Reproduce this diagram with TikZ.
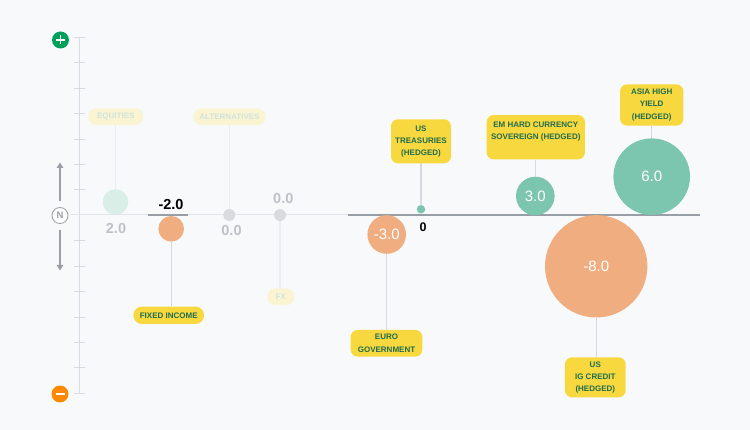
\documentclass[tikz,border=0pt]{standalone}
\usepackage{fontspec}
\setmainfont{Liberation Sans}
\usetikzlibrary{arrows.meta}
\definecolor{bgc}{HTML}{F8F9FB}
\definecolor{axisc}{HTML}{D6DBE5}
\definecolor{lightline}{HTML}{E2E4E8}
\definecolor{darkline}{HTML}{989EA5}
\definecolor{arrowc}{HTML}{9A9FA6}
\definecolor{ngray}{HTML}{9AA0A6}
\definecolor{plusgreen}{HTML}{00A05A}
\definecolor{minusorange}{HTML}{FF8A00}
\definecolor{lblyellow}{HTML}{F7D93F}
\definecolor{lblgreen}{HTML}{1F6B4E}
\definecolor{fadeyellow}{HTML}{FAF4D3}
\definecolor{fadetext}{HTML}{D2E3DD}
\definecolor{tealc}{HTML}{7CC5AF}
\definecolor{orangec}{HTML}{F0AE80}
\definecolor{fadeteal}{HTML}{D9EEE7}
\definecolor{grayc}{HTML}{DADBDE}
\definecolor{graytext}{HTML}{BEC1C5}
\definecolor{connc}{HTML}{D5D9E1}
\definecolor{fadeconn}{HTML}{EBEDF0}
\pgfdeclarelayer{bglayer}
\pgfdeclarelayer{lines}
\pgfsetlayers{bglayer,lines,main}
\tikzset{
  lblbase/.style={inner sep=0pt, align=center, font=\fontsize{8}{12.2}\selectfont\bfseries},
  lbl/.style={lblbase, fill=lblyellow, text=lblgreen},
  fadelbl/.style={lblbase, fill=fadeyellow, text=fadetext},
  bub/.style={circle, inner sep=0pt, minimum size=#1, text=white, font=\fontsize{15}{15}\selectfont},
  conn/.style={draw=connc, line width=1.2pt},
  fadeconnline/.style={draw=fadeconn, line width=1.2pt},
  graynum/.style={text=graytext, font=\fontsize{14.5}{14.5}\selectfont\bfseries},
  blacknum/.style={text=black, font=\fontsize{14.5}{14.5}\selectfont\bfseries},
  signc/.style={circle, inner sep=0pt, minimum size=17pt},
}
\begin{document}
\begin{tikzpicture}[x=1pt,y=-1pt]
\begin{pgfonlayer}{bglayer}
\fill[bgc] (0,0) rectangle (750,430);
\end{pgfonlayer}
\useasboundingbox (0,0) rectangle (750,430);

% vertical scale
\draw[axisc, line width=1pt] (79.3,37.3) -- (79.3,393.3);
\foreach \k in {0,...,6,8,9,...,14}
  \draw[axisc, line width=1pt] (74,{37.3+25.43*\k}) -- (84.5,{37.3+25.43*\k});

% baseline
\draw[lightline, line width=1pt] (71,215) -- (347.5,215);
\draw[darkline, line width=1.5pt] (347.5,215) -- (700,215);
\draw[darkline, line width=1.5pt] (148.3,215) -- (188.3,215);

% plus / minus / N
\node[signc, fill=plusgreen] (plus) at (60.5,40) {};
\draw[white, line width=1.4pt] ([xshift=-4.5pt]plus.center) -- ([xshift=4.5pt]plus.center);
\draw[white, line width=1.4pt] ([yshift=-4.5pt]plus.center) -- ([yshift=4.5pt]plus.center);
\node[signc, fill=minusorange] (minus) at (60,394) {};
\draw[white, line width=1.4pt] ([xshift=-4.5pt]minus.center) -- ([xshift=4.5pt]minus.center);
\node[circle, draw=ngray, fill=white, line width=0.8pt, minimum size=16pt, inner sep=0pt,
      text=ngray, font=\fontsize{9.5}{9.5}\selectfont\bfseries] (N) at (60,215.5) {N};
\coordinate (uptip) at (60,162.5);
\coordinate (downtip) at (60,270.5);
\draw[arrowc, line width=1.8pt, -{Triangle[width=6.5pt,length=5.5pt]}] ([yshift=6pt]N.north) -- (uptip);
\draw[arrowc, line width=1.8pt, -{Triangle[width=6.5pt,length=5.5pt]}] ([yshift=-6pt]N.south) -- (downtip);

% bubbles
\node[bub=25.6pt, fill=fadeteal] (eqc) at (115.5,202) {};
\node[bub=25.6pt, fill=orangec] (fic) at (171.2,228.8) {};
\node[bub=12pt, fill=grayc] (altc) at (229.3,215) {};
\node[bub=12pt, fill=grayc] (fxc) at (280,215) {};
\node[bub=38.6pt, fill=orangec] (euc) at (386.7,234.5) {-3.0};
\node[bub=8.5pt, fill=tealc] (ustc) at (421,209.3) {};
\node[bub=38.6pt, fill=tealc] (emc) at (535.3,196) {3.0};
\node[bub=76.6pt, fill=tealc] (ahc) at (651.7,176.7) {6.0};
\node[bub=102.4pt, fill=orangec] (igc) at (596.2,266.3) {-8.0};

% values
\node[graynum] (eqv) at (116,228.3) {2.0};
\node[blacknum] (fiv) at (171,205) {-2.0};
\node[graynum] (altv) at (231.5,230.5) {0.0};
\node[graynum] (fxv) at (283.3,198.3) {0.0};
\node[text=black, font=\fontsize{12.5}{12.5}\selectfont\bfseries] (ustv) at (423,226.7) {0};

% labels
\node[fadelbl, minimum width=55pt, minimum height=16.7pt, rounded corners=8pt] (eql) at (115.8,116.7) {EQUITIES};
\node[fadelbl, minimum width=72.4pt, minimum height=16.7pt, rounded corners=8pt] (altl) at (229.5,116.7) {ALTERNATIVES};
\node[lbl, minimum width=70.7pt, minimum height=17.3pt, rounded corners=8.5pt] (fil) at (168.7,315.3) {FIXED INCOME};
\node[fadelbl, minimum width=27pt, minimum height=16.7pt, rounded corners=8pt] (fxl) at (280.8,296.7) {FX};
\node[lbl, minimum width=71.6pt, minimum height=26.7pt, rounded corners=7pt] (eul) at (386.5,343.3) {EURO\\GOVERNMENT};
\node[lbl, minimum width=60pt, minimum height=44pt, rounded corners=7pt] (ustl) at (421,141.3) {US\\TREASURIES\\(HEDGED)};
\node[lbl, minimum width=98.3pt, minimum height=44.3pt, rounded corners=7pt] (eml) at (535.8,137.2) {EM HARD CURRENCY\\SOVEREIGN (HEDGED)\\\mbox{}};
\node[lbl, minimum width=63.3pt, minimum height=41.4pt, rounded corners=7pt] (ahl) at (651.7,105) {ASIA HIGH\\YIELD\\(HEDGED)};
\node[lbl, minimum width=60.7pt, minimum height=40pt, rounded corners=7pt] (igl) at (595.3,377.3) {US\\IG CREDIT\\(HEDGED)};

% connectors
\begin{pgfonlayer}{lines}
\draw[fadeconnline] (eqc.north) -- (eqc.north |- eql.south);
\draw[fadeconnline] (altc.north) -- (altc.north |- altl.south);
\draw[fadeconnline] (fxc.south) -- (fxc.south |- fxl.north);
\draw[conn] (fic.south) -- (fic.south |- fil.north);
\draw[conn] (euc.south) -- (euc.south |- eul.north);
\draw[conn] (ustc.north) -- (ustc.north |- ustl.south);
\draw[conn] (emc.north) -- (emc.north |- eml.south);
\draw[conn] (ahc.north) -- (ahc.north |- ahl.south);
\draw[conn] (igc.south) -- (igc.south |- igl.north);
\end{pgfonlayer}
\end{tikzpicture}
\end{document}
